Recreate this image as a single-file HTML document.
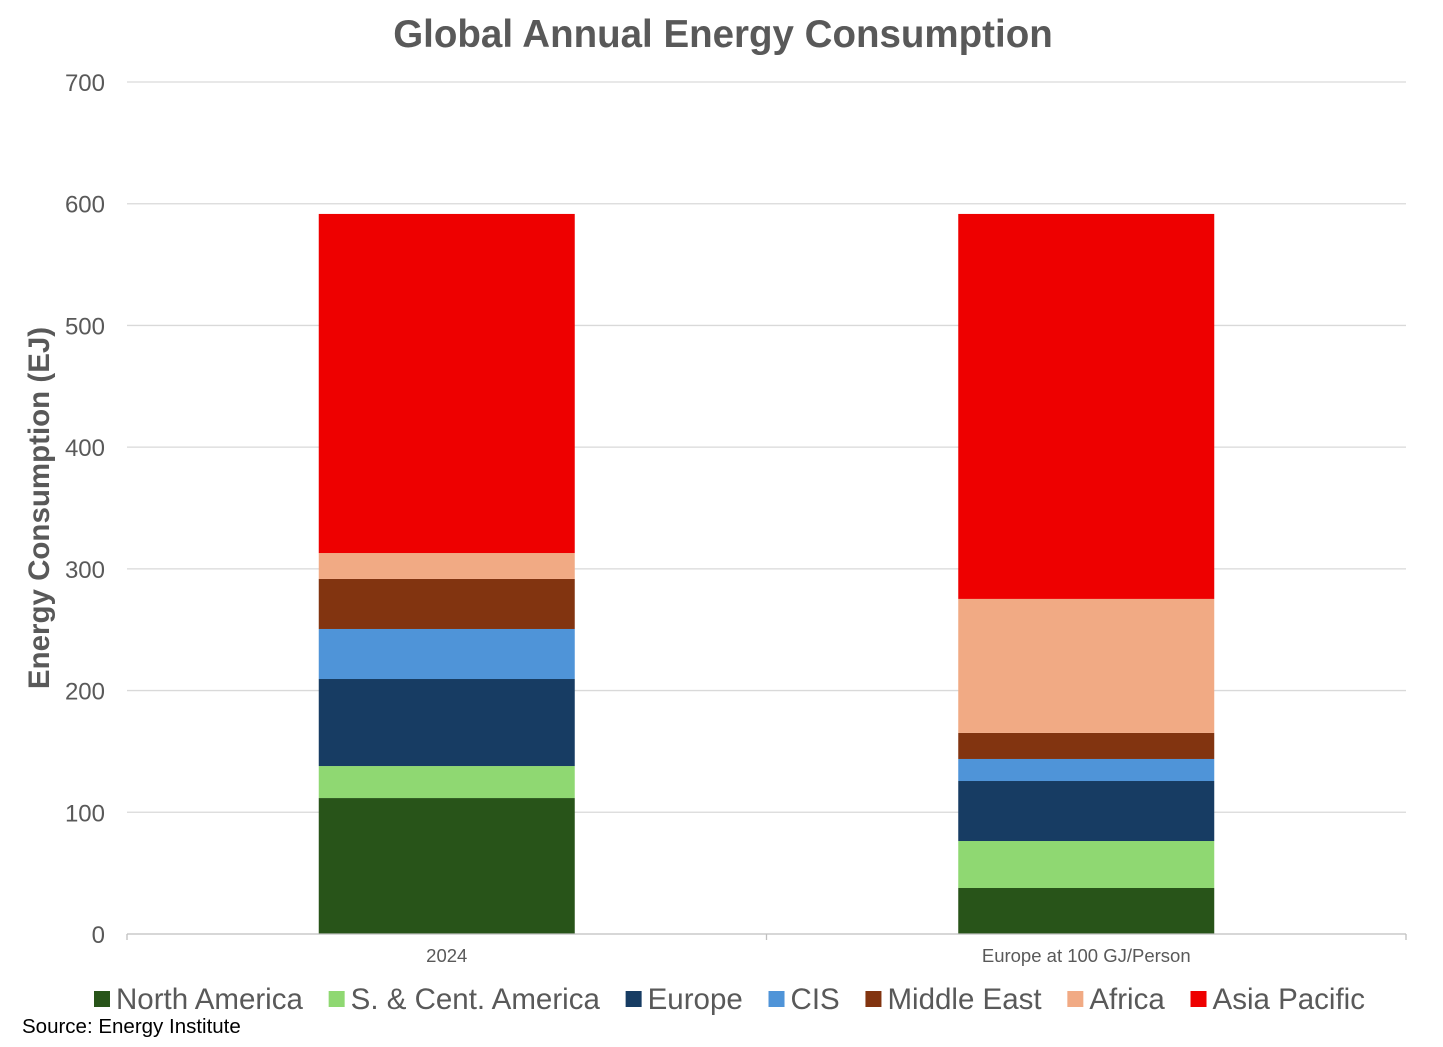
<!DOCTYPE html>
<html><head><meta charset="utf-8">
<style>
html,body{margin:0;padding:0;background:#fff;}
svg{display:block;font-family:"Liberation Sans",Arial,sans-serif;}
</style></head>
<body>
<svg id="chart" width="1443" height="1047" viewBox="0 0 1443 1047">
<text x="723" y="47" text-anchor="middle" font-size="38.5" font-weight="bold" fill="#595959">Global Annual Energy Consumption</text>
<g id="grid"></g>
<g id="yticks"></g>
<g id="bars"></g>
<g id="xaxis"></g>
<text transform="translate(49,508) rotate(-90)" text-anchor="middle" font-size="29.5" font-weight="bold" fill="#595959">Energy Consumption (EJ)</text>
<g id="legend"></g>
<text x="22" y="1033" font-size="20.5" fill="#000">Source: Energy Institute</text>
</svg>
<script>
const categories = ["2024", "Europe at 100 GJ/Person"];
const seriesNames = ["North America","S. & Cent. America","Europe","CIS","Middle East","Africa","Asia Pacific"];
const northAmerica = [111.7, 37.8];
const southCentAmerica = [26.3, 38.6];
const europe = [71.5, 49.3];
const cis = [41.1, 18.1];
const middleEast = [41.1, 21.4];
const africa = [21.3, 110.1];
const asiaPacific = [278.6, 316.3];
const yTicks = [0,100,200,300,400,500,600,700];

const series = [northAmerica, southCentAmerica, europe, cis, middleEast, africa, asiaPacific];
const colors = ["#285419","#8fd872","#173c63","#4f94d8","#823410","#f1aa84","#ee0000"];
const NS = "http://www.w3.org/2000/svg";
const x0 = 127, x1 = 1406, yBase = 934, yTop = 82, yMax = 700;
const y = v => yBase - v / yMax * (yBase - yTop);
const band = (x1 - x0) / categories.length;
const xc = i => x0 + band * (i + 0.5);
const barW = 256;
function mk(tag, attrs, parent){ const e = document.createElementNS(NS, tag); for (const k in attrs) e.setAttribute(k, attrs[k]); parent.appendChild(e); return e; }

const grid = document.getElementById('grid'), yt = document.getElementById('yticks');
yTicks.forEach(t => {
  if (t > 0) {
    const l = mk('line', {x1:x0, x2:x1, y1:y(t), y2:y(t), stroke:'#d9d9d9', 'stroke-width':1.3}, grid);
    
    
  }
  const tx = mk('text', {x:105, y:y(t)+9, 'text-anchor':'end', 'font-size':24, fill:'#595959'}, yt);
  tx.textContent = t;
  
  
});

const bars = document.getElementById('bars');
categories.forEach((c, i) => {
  let cum = 0;
  series.forEach((s, j) => {
    const v = s[i];
    const r = mk('rect', {x:xc(i)-barW/2, y:y(cum+v), width:barW, height:y(cum)-y(cum+v), fill:colors[j]}, bars);
    
    
    cum += v;
  });
});

const xa = document.getElementById('xaxis');
const ax = mk('line', {x1:x0, x2:x1, y1:yBase, y2:yBase, stroke:'#bfbfbf', 'stroke-width':1.3}, xa);


for (let k = 0; k <= categories.length; k++) {
  const t = mk('line', {x1:x0+band*k, x2:x0+band*k, y1:yBase, y2:yBase+6, stroke:'#bfbfbf', 'stroke-width':1.3}, xa);
  
  
}
categories.forEach((c, i) => {
  const t = mk('text', {x:xc(i), y:962, 'text-anchor':'middle', 'font-size':18.5, fill:'#595959'}, xa);
  t.textContent = c;
  
  
});

const lg = document.getElementById('legend');
const entries = [];
seriesNames.forEach((n, j) => {
  const g = mk('g', {}, lg);
  
  
  const r = mk('rect', {x:0, y:991, width:16, height:16, fill:colors[j]}, g);
  const t = mk('text', {x:0, y:1009, 'font-size':29.5, fill:'#595959'}, g);
  t.textContent = n;
  entries.push({r, t, w: t.getComputedTextLength()});
});
const startX = 94, endX = 1365;
const total = entries.reduce((a, e) => a + 22 + e.w, 0);
const gap = (endX - startX - total) / (entries.length - 1);
let lx = startX;
entries.forEach(e => {
  e.r.setAttribute('x', lx);
  e.t.setAttribute('x', lx + 22);
  lx += 22 + e.w + gap;
});
</script>
</body></html>
